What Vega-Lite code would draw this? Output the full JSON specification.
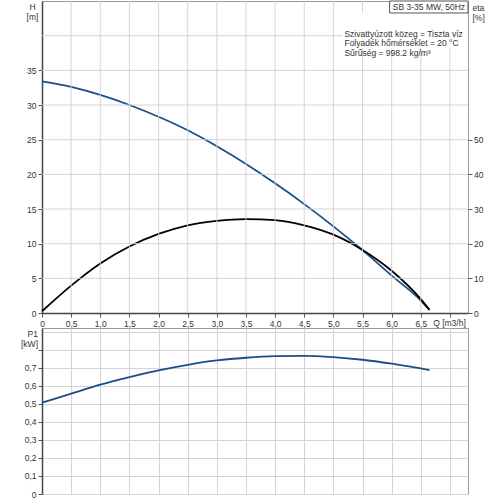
{
  "$schema": "https://vega.github.io/schema/vega-lite/v6.json",
  "padding": {"left": 20, "top": 0, "right": 0, "bottom": 0},
  "datasets": {
    "pump": [
      {"q": 0, "h": 33.4, "eta": 0.5},
      {"q": 0.5, "h": 32.6, "eta": 7.9},
      {"q": 1.0, "h": 31.45, "eta": 14.3},
      {"q": 1.5, "h": 30.0, "eta": 19.2},
      {"q": 2.0, "h": 28.3, "eta": 22.8},
      {"q": 2.5, "h": 26.35, "eta": 25.3},
      {"q": 3.0, "h": 24.05, "eta": 26.6},
      {"q": 3.5, "h": 21.5, "eta": 27.1},
      {"q": 4.0, "h": 18.7, "eta": 26.8},
      {"q": 4.5, "h": 15.7, "eta": 25.3},
      {"q": 5.0, "h": 12.5, "eta": 22.6},
      {"q": 5.5, "h": 9.07, "eta": 18.2},
      {"q": 6.0, "h": 5.4, "eta": 12.2},
      {"q": 6.5, "h": 1.8, "eta": 4.0},
      {"q": 6.65, "h": 0.43, "eta": 0.9}
    ],
    "power": [
      {"q": 0, "p1": 0.506},
      {"q": 0.5, "p1": 0.556},
      {"q": 1.0, "p1": 0.606},
      {"q": 1.5, "p1": 0.648},
      {"q": 2.0, "p1": 0.685},
      {"q": 2.5, "p1": 0.716},
      {"q": 3.0, "p1": 0.74},
      {"q": 3.5, "p1": 0.755},
      {"q": 4.0, "p1": 0.764},
      {"q": 4.5, "p1": 0.766},
      {"q": 5.0, "p1": 0.759},
      {"q": 5.5, "p1": 0.744},
      {"q": 6.0, "p1": 0.722},
      {"q": 6.5, "p1": 0.696},
      {"q": 6.65, "p1": 0.686}
    ],
    "qgrid": [
      {"q": 0.5}, {"q": 1}, {"q": 1.5}, {"q": 2}, {"q": 2.5}, {"q": 3}, {"q": 3.5},
      {"q": 4}, {"q": 4.5}, {"q": 5}, {"q": 5.5}, {"q": 6}, {"q": 6.5}, {"q": 7}
    ],
    "hgrid": [
      {"h": 5}, {"h": 10}, {"h": 15}, {"h": 20}, {"h": 25}, {"h": 30}, {"h": 35}, {"h": 40}
    ]
  },
  "spacing": 15,
  "bounds": "flush",
  "config": {
    "font": "Liberation Sans",
    "view": {"stroke": "#9a9a9a", "strokeWidth": 1},
    "axis": {
      "labelFont": "Liberation Sans",
      "labelFontSize": 8.5,
      "labelColor": "#333333",
      "titleFont": "Liberation Sans",
      "titleFontSize": 8.5,
      "titleFontWeight": "normal",
      "titleColor": "#333333",
      "titleLineHeight": 10,
      "gridColor": "#d4d4d4",
      "gridWidth": 1,
      "tickColor": "#555555",
      "tickSize": 4,
      "domainColor": "#444444",
      "domainWidth": 1.5,
      "labelPadding": 2
    },
    "text": {"font": "Liberation Sans", "fontSize": 8.5, "color": "#333333"},
    "rule": {"color": "#d0d0d0", "strokeWidth": 1},
    "line": {"strokeWidth": 1.8, "interpolate": "monotone", "strokeJoin": "round"}
  },
  "vconcat": [
    {
      "width": 426,
      "height": 312,
      "layer": [
        {
          "data": {"name": "pump"},
          "mark": {"type": "line", "color": "#1b4f87"},
          "encoding": {
            "x": {
              "field": "q",
              "type": "quantitative",
              "scale": {"domain": [0, 7.31], "nice": false, "zero": false},
              "axis": {
                "values": [0, 0.5, 1, 1.5, 2, 2.5, 3, 3.5, 4, 4.5, 5, 5.5, 6, 6.5, 7],
                "labelExpr": "datum.value > 6.9 ? '' : datum.value == 0 ? '0' : replace(format(datum.value, '.1f'), '.', ',')",
                "grid": false,
                "labelFlush": false,
                "labelOverlap": false,
                "title": "Q [m3/h]",
                "titleAngle": 0,
                "titleAlign": "left",
                "titleBaseline": "middle",
                "titleX": 390.7,
                "titleY": 9.4
              }
            },
            "y": {
              "field": "h",
              "type": "quantitative",
              "scale": {"domain": [0, 45], "nice": false},
              "axis": {
                "values": [0, 5, 10, 15, 20, 25, 30, 35],
                "grid": false,
                "labelOverlap": false,
                "labelFlush": false,
                "title": ["H", "[m]"],
                "titleAngle": 0,
                "titleAlign": "center",
                "titleBaseline": "middle",
                "titleX": -10,
                "titleY": 5.7
              }
            }
          }
        },
        {
          "data": {"name": "pump"},
          "mark": {"type": "line", "color": "#000000"},
          "encoding": {
            "x": {
              "field": "q",
              "type": "quantitative",
              "scale": {"domain": [0, 7.31], "nice": false, "zero": false},
              "axis": {
                "values": [0, 0.5, 1, 1.5, 2, 2.5, 3, 3.5, 4, 4.5, 5, 5.5, 6, 6.5, 7],
                "labelExpr": "datum.value > 6.9 ? '' : datum.value == 0 ? '0' : replace(format(datum.value, '.1f'), '.', ',')",
                "grid": false,
                "labelFlush": false,
                "labelOverlap": false,
                "title": "Q [m3/h]",
                "titleAngle": 0,
                "titleAlign": "left",
                "titleBaseline": "middle",
                "titleX": 390.7,
                "titleY": 9.4
              }
            },
            "y": {
              "field": "eta",
              "type": "quantitative",
              "scale": {"domain": [0, 90], "nice": false},
              "axis": {
                "orient": "right",
                "values": [0, 10, 20, 30, 40, 50],
                "grid": false,
                "domain": false,
                "labelPadding": 1.5,
                "labelOverlap": false,
                "labelFlush": false,
                "title": ["eta", "[%]"],
                "titleAngle": 0,
                "titleAlign": "left",
                "titleBaseline": "middle",
                "titleX": 4,
                "titleY": 6
              }
            }
          }
        },
        {
          "data": {"name": "qgrid"},
          "mark": {"type": "rule", "opacity": 0.9},
          "encoding": {
            "x": {
              "field": "q",
              "type": "quantitative",
              "scale": {"domain": [0, 7.31], "nice": false, "zero": false},
              "axis": {
                "values": [0, 0.5, 1, 1.5, 2, 2.5, 3, 3.5, 4, 4.5, 5, 5.5, 6, 6.5, 7],
                "labelExpr": "datum.value > 6.9 ? '' : datum.value == 0 ? '0' : replace(format(datum.value, '.1f'), '.', ',')",
                "grid": false,
                "labelFlush": false,
                "labelOverlap": false,
                "title": "Q [m3/h]",
                "titleAngle": 0,
                "titleAlign": "left",
                "titleBaseline": "middle",
                "titleX": 390.7,
                "titleY": 9.4
              }
            },
            "y": {"datum": 0, "type": "quantitative", "axis": null, "scale": {"domain": [0, 45], "nice": false}},
            "y2": {"datum": 45}
          }
        },
        {
          "data": {"name": "hgrid"},
          "mark": {"type": "rule", "opacity": 0.9},
          "encoding": {
            "x": {
              "datum": 0,
              "type": "quantitative",
              "scale": {"domain": [0, 7.31], "nice": false, "zero": false},
              "axis": {
                "values": [0, 0.5, 1, 1.5, 2, 2.5, 3, 3.5, 4, 4.5, 5, 5.5, 6, 6.5, 7],
                "labelExpr": "datum.value > 6.9 ? '' : datum.value == 0 ? '0' : replace(format(datum.value, '.1f'), '.', ',')",
                "grid": false,
                "labelFlush": false,
                "labelOverlap": false,
                "title": "Q [m3/h]",
                "titleAngle": 0,
                "titleAlign": "left",
                "titleBaseline": "middle",
                "titleX": 390.7,
                "titleY": 9.4
              }
            },
            "x2": {"datum": 7.31},
            "y": {"field": "h", "type": "quantitative", "axis": null, "scale": {"domain": [0, 45], "nice": false}}
          }
        },
        {
          "data": {"values": [{}]},
          "mark": {"type": "rect", "fill": "white"},
          "encoding": {
            "x": {
              "datum": 5.154,
              "type": "quantitative",
              "scale": {"domain": [0, 7.31], "nice": false, "zero": false},
              "axis": {
                "values": [0, 0.5, 1, 1.5, 2, 2.5, 3, 3.5, 4, 4.5, 5, 5.5, 6, 6.5, 7],
                "labelExpr": "datum.value > 6.9 ? '' : datum.value == 0 ? '0' : replace(format(datum.value, '.1f'), '.', ',')",
                "grid": false,
                "labelFlush": false,
                "labelOverlap": false,
                "title": "Q [m3/h]",
                "titleAngle": 0,
                "titleAlign": "left",
                "titleBaseline": "middle",
                "titleX": 390.7,
                "titleY": 9.4
              }
            },
            "x2": {"datum": 7.31},
            "y": {"datum": 43.3, "type": "quantitative", "axis": null, "scale": {"domain": [0, 45], "nice": false}},
            "y2": {"datum": 38.2}
          }
        },
        {
          "data": {"values": [{}]},
          "mark": {"type": "rect", "fill": "white", "stroke": "#555555", "strokeWidth": 1},
          "encoding": {
            "x": {
              "datum": 5.965,
              "type": "quantitative",
              "scale": {"domain": [0, 7.31], "nice": false, "zero": false},
              "axis": {
                "values": [0, 0.5, 1, 1.5, 2, 2.5, 3, 3.5, 4, 4.5, 5, 5.5, 6, 6.5, 7],
                "labelExpr": "datum.value > 6.9 ? '' : datum.value == 0 ? '0' : replace(format(datum.value, '.1f'), '.', ',')",
                "grid": false,
                "labelFlush": false,
                "labelOverlap": false,
                "title": "Q [m3/h]",
                "titleAngle": 0,
                "titleAlign": "left",
                "titleBaseline": "middle",
                "titleX": 390.7,
                "titleY": 9.4
              }
            },
            "x2": {"datum": 7.31},
            "y": {"datum": 45, "type": "quantitative", "axis": null, "scale": {"domain": [0, 45], "nice": false}},
            "y2": {"datum": 43.27}
          }
        },
        {
          "data": {"values": [{"label": "SB 3-35 MW, 50Hz"}]},
          "mark": {"type": "text", "align": "center", "baseline": "middle"},
          "encoding": {
            "x": {
              "datum": 6.64,
              "type": "quantitative",
              "scale": {"domain": [0, 7.31], "nice": false, "zero": false},
              "axis": {
                "values": [0, 0.5, 1, 1.5, 2, 2.5, 3, 3.5, 4, 4.5, 5, 5.5, 6, 6.5, 7],
                "labelExpr": "datum.value > 6.9 ? '' : datum.value == 0 ? '0' : replace(format(datum.value, '.1f'), '.', ',')",
                "grid": false,
                "labelFlush": false,
                "labelOverlap": false,
                "title": "Q [m3/h]",
                "titleAngle": 0,
                "titleAlign": "left",
                "titleBaseline": "middle",
                "titleX": 390.7,
                "titleY": 9.4
              }
            },
            "y": {"datum": 44.09, "type": "quantitative", "axis": null, "scale": {"domain": [0, 45], "nice": false}},
            "text": {"field": "label"}
          }
        },
        {
          "data": {"values": [{"label": "Szivattyúzott közeg = Tiszta víz\nFolyadék hőmérséklet = 20 °C\nSűrűség = 998.2 kg/m³"}]},
          "mark": {"type": "text", "align": "left", "baseline": "middle", "lineBreak": "\n", "lineHeight": 9.8},
          "encoding": {
            "x": {
              "datum": 5.19,
              "type": "quantitative",
              "scale": {"domain": [0, 7.31], "nice": false, "zero": false},
              "axis": {
                "values": [0, 0.5, 1, 1.5, 2, 2.5, 3, 3.5, 4, 4.5, 5, 5.5, 6, 6.5, 7],
                "labelExpr": "datum.value > 6.9 ? '' : datum.value == 0 ? '0' : replace(format(datum.value, '.1f'), '.', ',')",
                "grid": false,
                "labelFlush": false,
                "labelOverlap": false,
                "title": "Q [m3/h]",
                "titleAngle": 0,
                "titleAlign": "left",
                "titleBaseline": "middle",
                "titleX": 390.7,
                "titleY": 9.4
              }
            },
            "y": {"datum": 40.29, "type": "quantitative", "axis": null, "scale": {"domain": [0, 45], "nice": false}},
            "text": {"field": "label"}
          }
        }
      ],
      "resolve": {"scale": {"y": "independent"}, "axis": {"y": "independent"}}
    },
    {
      "width": 426,
      "height": 166,
      "data": {"name": "power"},
      "mark": {"type": "line", "color": "#1b4f87"},
      "encoding": {
        "x": {
          "field": "q",
          "type": "quantitative",
          "scale": {"domain": [0, 7.31], "nice": false, "zero": false},
          "axis": {
            "values": [0, 0.5, 1, 1.5, 2, 2.5, 3, 3.5, 4, 4.5, 5, 5.5, 6, 6.5, 7],
            "labels": false,
            "ticks": false,
            "domain": false,
            "title": null
          }
        },
        "y": {
          "field": "p1",
          "type": "quantitative",
          "scale": {"domain": [0, 0.92], "nice": false},
          "axis": {
            "values": [0, 0.1, 0.2, 0.3, 0.4, 0.5, 0.6, 0.7, 0.8, 0.9],
            "labelExpr": "datum.value > 0.75 ? '' : datum.value == 0 ? '0' : replace(format(datum.value, '.1f'), '.', ',')",
            "labelOverlap": false,
            "labelFlush": false,
            "tickOpacity": {"condition": {"test": "datum.value > 0.85", "value": 0}, "value": 1},
            "title": ["P1", "[kW]"],
            "titleAngle": 0,
            "titleAlign": "right",
            "titleBaseline": "middle",
            "titleX": -4.5,
            "titleY": 5.4
          }
        }
      }
    }
  ]
}
